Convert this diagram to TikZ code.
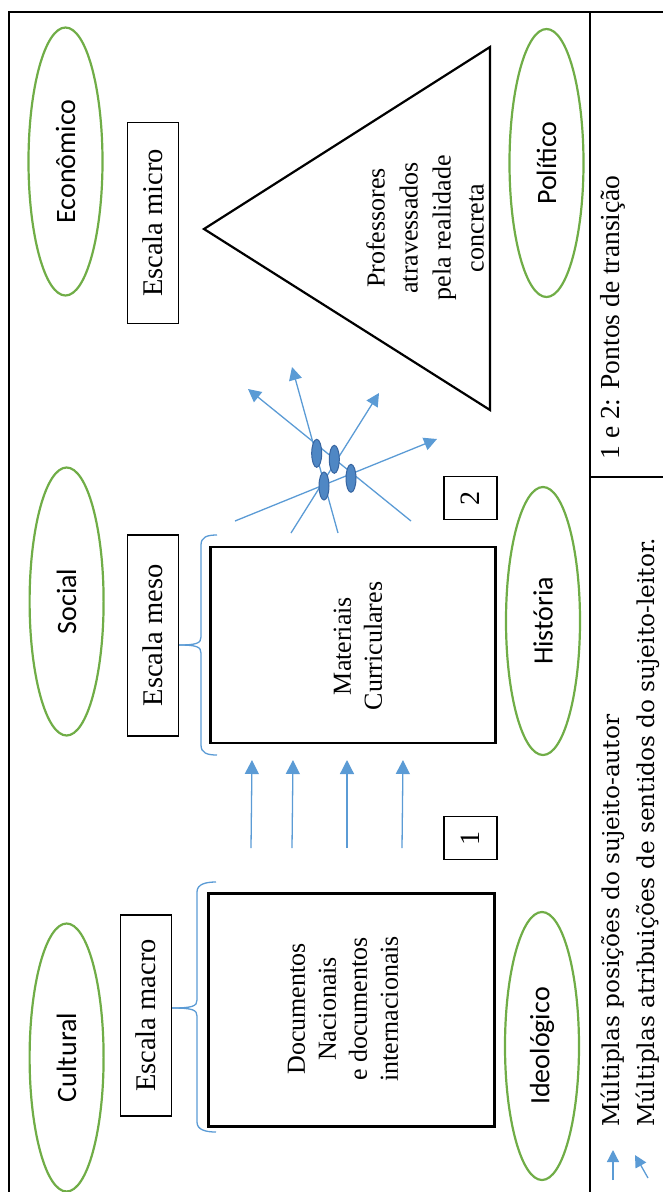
\documentclass[tikz,border=0pt]{standalone}
\usepackage{fontspec}
\setmainfont{Liberation Serif}
\newfontfamily\fieldfont{Carlito}
\newfontfamily\keyfont{DejaVu Serif}
\usetikzlibrary{shapes.geometric,arrows.meta}
\definecolor{fieldgreen}{RGB}{112,173,71}
\definecolor{flowblue}{RGB}{91,155,213}
\definecolor{readerblue}{RGB}{79,135,196}
\definecolor{readeredge}{RGB}{55,100,160}
\tikzset{
  field/.style={ellipse, draw=fieldgreen, line width=2.2pt, minimum width=268pt, minimum height=74pt, inner sep=0pt, rotate=90, font=\fieldfont\fontsize{28}{34}\selectfont},
  scalebox/.style={draw, line width=1.2pt, minimum width=201pt, minimum height=51pt, inner sep=0pt, rotate=90, font=\fontsize{28.5}{34}\selectfont},
  docbox/.style={draw, line width=2.6pt, inner sep=0pt, rotate=90},
  doctext/.style={rotate=90, inner sep=0pt, align=center, font=\fontsize{26}{31}\selectfont},
  markbox/.style={draw, line width=1.2pt, minimum width=43pt, minimum height=53pt, inner sep=0pt, rotate=90, font=\fontsize{28}{34}\selectfont},
  keytext/.style={rotate=90, inner sep=0pt, font=\keyfont\fontsize{23.2}{28}\selectfont},
  flow/.style={flowblue, line width=1.3pt, -{Triangle[length=14pt,width=14pt]}},
  readerdot/.style={ellipse, fill=readerblue, draw=readeredge, line width=1pt, minimum width=10pt, minimum height=28pt, inner sep=0pt},
  bracepath/.style={flowblue, line width=1.3pt}
}
\begin{document}
\begin{tikzpicture}[x=1pt,y=1pt,yscale=-1]
\useasboundingbox (0,0) rectangle (663,1192);
\clip (0,0) rectangle (663,1192);
% frame and legend column
\draw[line width=2.2pt] (9,1200) -- (9,12) -- (670,12);
\draw[line width=1.8pt] (590,12) -- (590,1200);
\draw[line width=1.2pt] (590,477) -- (670,477);

% fields
\node[field] (economico) at (65.5,161.5) {Econômico};
\node[field] (politico) at (546.5,163) {Político};
\node[field] (social) at (66.6,601.5) {Social};
\node[field] (historia) at (543,621) {História};
\node[field] (cultural) at (66.6,1057.5) {Cultural};
\node[field] (ideologico) at (542,1046) {Ideológico};

% scales
\node[scalebox] (micro) at (153,223) {Escala micro};
\node[scalebox] (meso) at (153,635.5) {Escala meso};
\node[scalebox] (macro) at (146,1015.5) {Escala macro};

% documents
\node[docbox, minimum width=196pt, minimum height=285pt] (materiais) at (353,645) {};
\node[doctext] (materiais text) at (358,646) {Materiais\\Curriculares};
\node[docbox, minimum width=233pt, minimum height=286pt] (documentos) at (351.6,1009.7) {};
\node[doctext] (documentos text) at (343,1009) {Documentos\\Nacionais\\e documentos\\internacionais};

% teachers triangle
\coordinate (apex) at (204,229);
\coordinate (base top) at (490,47);
\coordinate (base bottom) at (490,410);
\draw[line width=2.2pt, line join=miter] (apex) -- (base top) -- (base bottom) -- cycle;
\node[rotate=90, align=center, font=\fontsize{26}{33}\selectfont] (professores) at (425,228) {Professores\\atravessados\\pela realidade\\concreta};

% transition marks
\node[markbox] (mark one) at (470.5,838.3) {1};
\node[markbox] (mark two) at (470.5,498) {2};

% braces
\draw[bracepath] (217,535) .. controls (207,535) and (201,537) .. (201,545) -- (201,637) .. controls (201,643) and (197,645) .. (meso.south |- 0,645);
\draw[bracepath] (217,755) .. controls (207,755) and (201,753) .. (201,745) -- (201,653) .. controls (201,647) and (197,645) .. (meso.south |- 0,645);
\draw[bracepath] (216,882) .. controls (206,882) and (197,884) .. (197,892) -- (197,1000) .. controls (197,1006) and (193,1008) .. (macro.south |- 0,1008);
\draw[bracepath] (216,1132) .. controls (206,1132) and (197,1130) .. (197,1122) -- (197,1016) .. controls (197,1010) and (193,1008) .. (macro.south |- 0,1008);

% author positions
\foreach \i/\xa/\xb in {1/251/252,2/292/293,3/347/347,4/402/403}{
  \coordinate (up base \i) at (\xa,848);
  \coordinate (up tip \i) at (\xb,760);
  \draw[flow] (up base \i) -- (up tip \i);
}

% reader meanings
\coordinate (ray a0) at (235,521); \coordinate (ray a1) at (437,439);
\coordinate (ray b0) at (411,521); \coordinate (ray b1) at (248,389);
\coordinate (ray c0) at (338,533); \coordinate (ray c1) at (292,367);
\coordinate (ray d0) at (291,533); \coordinate (ray d1) at (379,393);
\foreach \r in {a,b,c,d}
  \draw[flow, -{Triangle[length=13pt,width=13pt]}] (ray \r0) -- (ray \r1);
\node[readerdot] (reader a) at (316.7,453.3) {};
\node[readerdot] (reader b) at (334.3,459.3) {};
\node[readerdot] (reader c) at (324,486) {};
\node[readerdot] (reader d) at (351,478.3) {};

% legend
\node[rotate=90, inner sep=0pt, font=\fontsize{27.5}{34}\selectfont] (transition) at (613,317.5) {1 e 2: Pontos de transição};
\node[keytext, anchor=west] (author key) at (613,1127) {Múltiplas posições do sujeito-autor};
\node[keytext, anchor=west] (reader key) at (648,1127) {Múltiplas atribuições de sentidos do sujeito-leitor.};
\coordinate (key a0) at (613,1180); \coordinate (key a1) at (613,1150);
\coordinate (key b0) at (648,1178); \coordinate (key b1) at (635,1155);
\draw[flow, -{Triangle[length=12pt,width=12pt]}] (key a0) -- (key a1);
\draw[flow, -{Triangle[length=12pt,width=12pt]}] (key b0) -- (key b1);
\end{tikzpicture}
\end{document}
